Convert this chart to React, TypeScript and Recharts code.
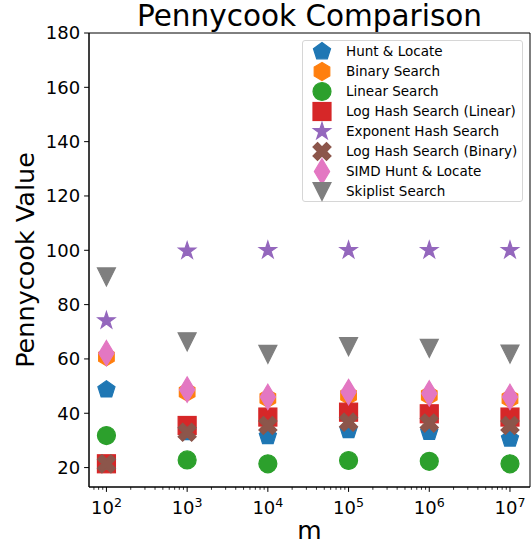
import React from 'react';
import {
  ScatterChart,
  Scatter,
  XAxis,
  YAxis,
  ReferenceArea,
} from 'recharts';

// sizes of m
const mValues = [1e2, 1e3, 1e4, 1e5, 1e6, 1e7];

// pennycook values, one per m
const huntLocate = [48.7, 33.0, 31.5, 33.7, 33.1, 30.6];
const binarySearch = [60.8, 47.8, 45.5, 46.6, 46.6, 45.4];
const linearSearch = [31.8, 22.8, 21.4, 22.6, 22.3, 21.4];
const logHashLinear = [21.4, 35.5, 38.6, 40.4, 39.8, 38.6];
const exponentHash = [74.1, 99.8, 100.0, 100.0, 100.0, 100.0];
const logHashBinary = [21.4, 33.0, 35.5, 36.7, 36.4, 35.5];
const simdHuntLocate = [62.1, 48.7, 46.0, 47.8, 47.3, 46.0];
const skiplist = [90.2, 66.3, 61.7, 64.5, 63.9, 61.8];

const yTicks = [20, 40, 60, 80, 100, 120, 140, 160, 180];
const xMajorTicks = [1e2, 1e3, 1e4, 1e5, 1e6, 1e7];

type Marker = 'pentagon' | 'hexagon' | 'circle' | 'square' | 'star' | 'xfilled' | 'thindiamond' | 'trianglev';

const series: { name: string; values: number[]; color: string; marker: Marker }[] = [
  { name: 'Hunt & Locate', values: huntLocate, color: '#1f77b4', marker: 'pentagon' },
  { name: 'Binary Search', values: binarySearch, color: '#ff7f0e', marker: 'hexagon' },
  { name: 'Linear Search', values: linearSearch, color: '#2ca02c', marker: 'circle' },
  { name: 'Log Hash Search (Linear)', values: logHashLinear, color: '#d62728', marker: 'square' },
  { name: 'Exponent Hash Search', values: exponentHash, color: '#9467bd', marker: 'star' },
  { name: 'Log Hash Search (Binary)', values: logHashBinary, color: '#8c564b', marker: 'xfilled' },
  { name: 'SIMD Hunt & Locate', values: simdHuntLocate, color: '#e377c2', marker: 'thindiamond' },
  { name: 'Skiplist Search', values: skiplist, color: '#7f7f7f', marker: 'trianglev' },
];

const FONT = '"DejaVu Sans", sans-serif';
const W = 531;
const H = 544;
const plot = { left: 89, top: 33, right: 530, bottom: 487 };
const xDomain = [Math.pow(10, 1.784), Math.pow(10, 7.248)];
const yDomain = [12.85, 180];

// minor ticks of the log axis
const xMinorTicks: number[] = [];
for (let e = 1; e <= 7; e++) {
  for (let k = 2; k <= 9; k++) {
    const v = k * Math.pow(10, e);
    if (v > xDomain[0] && v < xDomain[1]) xMinorTicks.push(v);
  }
}
const xAllTicks = [...xMajorTicks, ...xMinorTicks].sort((a, b) => a - b);

const S = 9; // half marker size

function pts(list: [number, number][], cx: number, cy: number) {
  return list.map(([x, y]) => `${cx + x},${cy + y}`).join(' ');
}

function polygon(n: number, r: number): [number, number][] {
  const out: [number, number][] = [];
  for (let i = 0; i < n; i++) {
    const a = Math.PI / 2 + (i * 2 * Math.PI) / n;
    out.push([r * Math.cos(a), -r * Math.sin(a)]);
  }
  return out;
}

function star(r: number): [number, number][] {
  const out: [number, number][] = [];
  for (let i = 0; i < 10; i++) {
    const rr = i % 2 === 0 ? r : r * 0.381966;
    const a = Math.PI / 2 + (i * Math.PI) / 5;
    out.push([rr * Math.cos(a), -rr * Math.sin(a)]);
  }
  return out;
}

const xFilled: [number, number][] = [
  [-1, -2], [0, -1], [1, -2], [2, -1], [1, 0], [2, 1],
  [1, 2], [0, 1], [-1, 2], [-2, 1], [-1, 0], [-2, -1],
].map(([x, y]) => [x * S / 2, y * S / 2] as [number, number]);

function MarkerShape({ cx, cy, color, marker }: { cx: number; cy: number; color: string; marker: Marker }) {
  const common = { fill: color, stroke: color, strokeWidth: 1.2, strokeLinejoin: 'miter' as const };
  switch (marker) {
    case 'circle':
      return <circle cx={cx} cy={cy} r={S} {...common} />;
    case 'square':
      return <rect x={cx - S} y={cy - S} width={2 * S} height={2 * S} {...common} />;
    case 'pentagon':
      return <polygon points={pts(polygon(5, S), cx, cy)} {...common} />;
    case 'hexagon':
      return <polygon points={pts(polygon(6, S), cx, cy)} {...common} />;
    case 'star':
      return <polygon points={pts(star(S), cx, cy)} {...common} />;
    case 'xfilled':
      return <polygon points={pts(xFilled, cx, cy)} {...common} />;
    case 'thindiamond': {
      const h = S * 1.414;
      return <polygon points={pts([[0, -h], [h * 0.6, 0], [0, h], [-h * 0.6, 0]], cx, cy)} {...common} />;
    }
    case 'trianglev':
      return <polygon points={pts([[0, S], [-S, -S], [S, -S]], cx, cy)} {...common} />;
  }
  return null;
}

function XTick(props: any) {
  const { x, y, payload } = props;
  const v = payload.value as number;
  const exp = Math.round(Math.log10(v));
  const major = Math.abs(Math.pow(10, exp) - v) < 1e-6 * v;
  if (!major) {
    return <line x1={x} x2={x} y1={y} y2={y + 2.8} stroke="#000" strokeWidth={0.8} />;
  }
  return (
    <g>
      <line x1={x} x2={x} y1={y} y2={y + 4.9} stroke="#000" strokeWidth={1} />
      <text x={x} y={y + 27} textAnchor="middle" fontFamily={FONT} fontSize={18} fill="#000">
        <tspan>10</tspan>
        <tspan dy={-7.5} fontSize={12.6}>{exp}</tspan>
      </text>
    </g>
  );
}

function LegendBox() {
  return (
    <div
      style={{
        position: 'absolute',
        left: 302,
        top: 40,
        width: 221,
        height: 162,
        border: '1px solid #d6d6d6',
        borderRadius: 3,
        background: 'rgba(255,255,255,0.8)',
        boxSizing: 'border-box',
      }}
    >
      <svg width={221} height={162} style={{ position: 'absolute', left: -1, top: -1 }}>
        {series.map((s, i) => (
          <g key={s.name}>
            <MarkerShape cx={20} cy={11.5 + i * 20} color={s.color} marker={s.marker} />
            <text x={44} y={16.3 + i * 20} fontFamily={FONT} fontSize={13.5} fill="#000">
              {s.name}
            </text>
          </g>
        ))}
      </svg>
    </div>
  );
}

export default function App() {
  return (
    <div style={{ position: 'absolute', left: 0, top: 0, width: W, height: H, background: '#fff' }}>
      <ScatterChart
        width={W}
        height={H}
        margin={{ top: plot.top, right: W - plot.right, bottom: 0, left: 0 }}
      >
        <XAxis
          dataKey="m"
          type="number"
          scale="log"
          domain={xDomain}
          allowDataOverflow
          ticks={xAllTicks}
          interval={0}
          height={H - plot.bottom}
          tickSize={0}
          tickMargin={0}
          tickLine={false}
          tick={<XTick />}
          axisLine={{ stroke: '#000', strokeWidth: 1 }}
        />
        <YAxis
          dataKey="v"
          type="number"
          domain={yDomain}
          allowDataOverflow
          ticks={yTicks}
          interval={0}
          width={plot.left}
          tickSize={4.9}
          tickMargin={4}
          tickLine={{ stroke: '#000' }}
          axisLine={{ stroke: '#000', strokeWidth: 1 }}
          tick={{ fontFamily: FONT, fontSize: 18, fill: '#000' }}
        />
        <ReferenceArea
          x1={xDomain[0]}
          x2={xDomain[1]}
          y1={yDomain[0]}
          y2={yDomain[1]}
          fill="none"
          stroke="#000"
          strokeWidth={1}
          ifOverflow="visible"
        />
        {series.map((s) => (
          <Scatter
            key={s.name}
            name={s.name}
            data={mValues.map((m, i) => ({ m, v: s.values[i] }))}
            fill={s.color}
            isAnimationActive={false}
            shape={(p: any) => <MarkerShape cx={p.cx} cy={p.cy} color={s.color} marker={s.marker} />}
          />
        ))}
      </ScatterChart>
      <LegendBox />
      <svg
        width={W}
        height={H}
        style={{ position: 'absolute', left: 0, top: 0, pointerEvents: 'none' }}
      >
        <text x={(plot.left + plot.right) / 2} y={25.5} textAnchor="middle" fontFamily={FONT} fontSize={29.5} fill="#000">
          Pennycook Comparison
        </text>
        <text x={(plot.left + plot.right) / 2} y={539} textAnchor="middle" fontFamily={FONT} fontSize={25} fill="#000">
          m
        </text>
        <text
          transform={`translate(33.5, ${(plot.top + plot.bottom) / 2}) rotate(-90)`}
          textAnchor="middle"
          fontFamily={FONT}
          fontSize={25.5}
          fill="#000"
        >
          Pennycook Value
        </text>
      </svg>
    </div>
  );
}
